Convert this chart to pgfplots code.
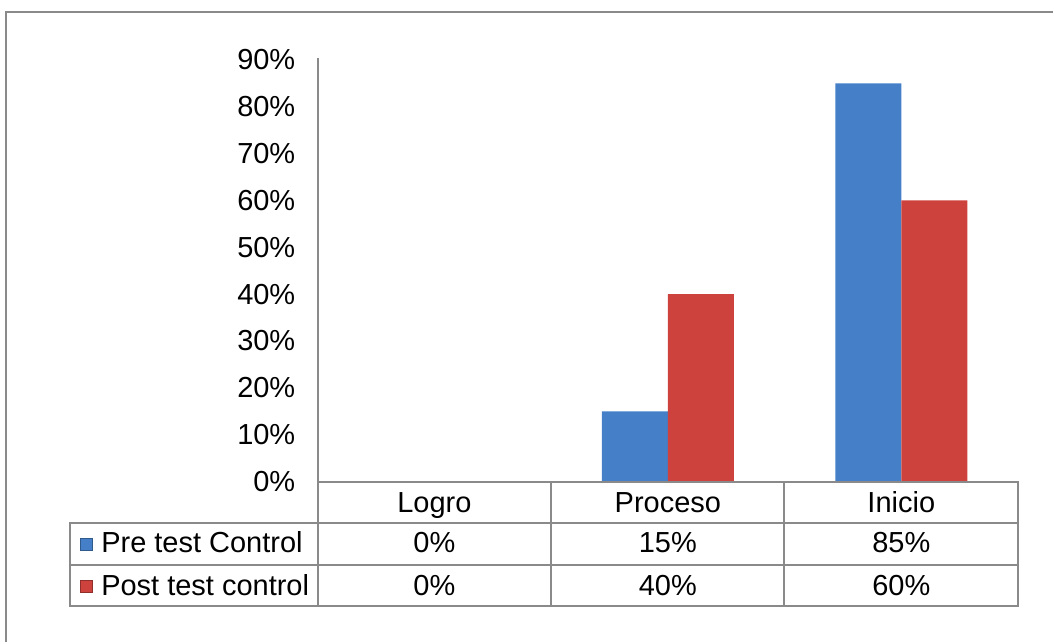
\documentclass[border=0pt]{standalone}
\usepackage{fontspec}
\setmainfont{Liberation Sans}
\usepackage{pgfplots}
\pgfplotsset{compat=1.18}

\definecolor{preblue}{RGB}{68,127,200}
\definecolor{postred}{RGB}{206,66,61}
\definecolor{gridgray}{RGB}{138,138,138}

\newcommand{\chartfont}{\fontsize{14.5pt}{17pt}\selectfont}

\begin{document}
\begin{tikzpicture}[font=\chartfont]
% page = 1054 x 643 px, 1 px = 0.5pt
\path (0,0) rectangle (527pt,321.5pt);
\draw[gridgray, line width=1pt] (3pt,0) -- (3pt,315.5pt) -- (527pt,315.5pt);

\begin{axis}[
    at={(159pt,80.5pt)}, anchor=south west,
    scale only axis, width=350.5pt, height=211pt,
    xmin=-0.5, xmax=2.5, ymin=0, ymax=90,
    axis line style={draw=none},
    ybar=0pt, bar width=33pt,
    xtick={0,1,2}, xticklabels={Logro,Proceso,Inicio},
    xticklabel style={anchor=base, yshift=-15.25pt},
    ytick={0,10,...,90},
    yticklabel={\pgfmathprintnumber{\tick}\%},
    yticklabel style={xshift=-7.7pt},
    tick label style={font=\chartfont},
    /pgf/number format/assume math mode=true,
    major tick length=0pt,
    clip=false]
\addplot[fill=preblue, draw=none] coordinates {(0,0) (1,15) (2,85)};
\addplot[fill=postred, draw=none] coordinates {(0,0) (1,40) (2,60)};
\end{axis}

% data table below the axis
\begin{scope}[gridgray, line width=1pt]
\draw (159pt,80.5pt) -- (509.5pt,80.5pt) -- (509.5pt,18pt) -- (35pt,18pt) -- (35pt,60pt) -- (159pt,60pt);
\draw (159pt,60pt) -- (509.5pt,60pt);
\draw (35pt,38.5pt) -- (509.5pt,38.5pt);
\draw (159pt,292.5pt) -- (159pt,18pt);
\draw (276pt,80.5pt) -- (276pt,18pt);
\draw (392.5pt,80.5pt) -- (392.5pt,18pt);
\end{scope}

\fill[preblue, draw=preblue!70!black, line width=0.4pt] (40pt,46.25pt) rectangle (46pt,52.25pt);
\fill[postred, draw=postred!70!black, line width=0.4pt] (40pt,25.25pt) rectangle (46pt,31.25pt);
\node[anchor=base west, inner sep=0pt] at (50.5pt,44.85pt) {Pre test Control};
\node[anchor=base west, inner sep=0pt] at (50.5pt,23.5pt) {Post test control};

\node[anchor=base] at (217.4pt,44.85pt) {0\%};
\node[anchor=base] at (334.25pt,44.85pt) {15\%};
\node[anchor=base] at (451.1pt,44.85pt) {85\%};
\node[anchor=base] at (217.4pt,23.5pt) {0\%};
\node[anchor=base] at (334.25pt,23.5pt) {40\%};
\node[anchor=base] at (451.1pt,23.5pt) {60\%};
\end{tikzpicture}
\end{document}
